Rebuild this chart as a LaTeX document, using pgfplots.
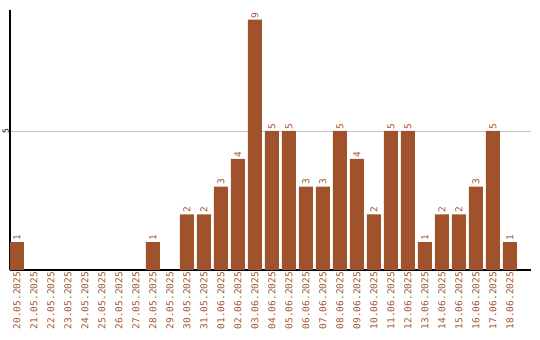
\documentclass[border=0pt]{standalone}
\usepackage{pgfplots}
\pgfplotsset{compat=1.18}
\usepackage{fontspec}
\setmonofont{DejaVu Sans Mono}
\definecolor{barc}{HTML}{A0522D}
\begin{document}
\begin{tikzpicture}
\begin{axis}[
  name=ax,
  scale only axis,
  width=521bp, height=260bp,
  xmin=-0.41, xmax=30.24,
  ymin=0, ymax=9.35,
  axis x line*=bottom, axis y line*=left,
  axis line style={black, line width=1.2pt, -},
  ybar, bar width=14bp,
  bar shift=0pt,
  xtick={0,...,29},
  xticklabels={20.05.2025,21.05.2025,22.05.2025,23.05.2025,24.05.2025,25.05.2025,26.05.2025,27.05.2025,28.05.2025,29.05.2025,30.05.2025,31.05.2025,01.06.2025,02.06.2025,03.06.2025,04.06.2025,05.06.2025,06.06.2025,07.06.2025,08.06.2025,09.06.2025,10.06.2025,11.06.2025,12.06.2025,13.06.2025,14.06.2025,15.06.2025,16.06.2025,17.06.2025,18.06.2025},
  x tick label style={rotate=90, anchor=east, font=\ttfamily\fontsize{9.5}{10}\selectfont, text=barc, inner sep=2pt},
  ytick={5},
  y tick label style={rotate=90, anchor=south, font=\ttfamily\fontsize{8}{9}\selectfont, inner sep=1pt},
  major tick length=0pt,
  ymajorgrids, grid style={gray!45, line width=0.6pt},
  nodes near coords,
  every node near coord/.append style={rotate=90, anchor=west, font=\ttfamily\fontsize{9.5}{10}\selectfont, text=barc, inner sep=1.5pt},
  /pgf/number format/assume math mode=true,
  clip=false,
]
\addplot[fill=barc, draw=none] coordinates {
(0,1) (8,1) (10,2) (11,2) (12,3) (13,4) (14,9) (15,5) (16,5) (17,3) (18,3) (19,5) (20,4) (21,2) (22,5) (23,5) (24,1) (25,2) (26,2) (27,3) (28,5) (29,1)
};
\end{axis}
\path ([shift={(-10bp,-70bp)}]ax.south west) rectangle ([shift={(9bp,10bp)}]ax.north east);
\end{tikzpicture}
\end{document}
